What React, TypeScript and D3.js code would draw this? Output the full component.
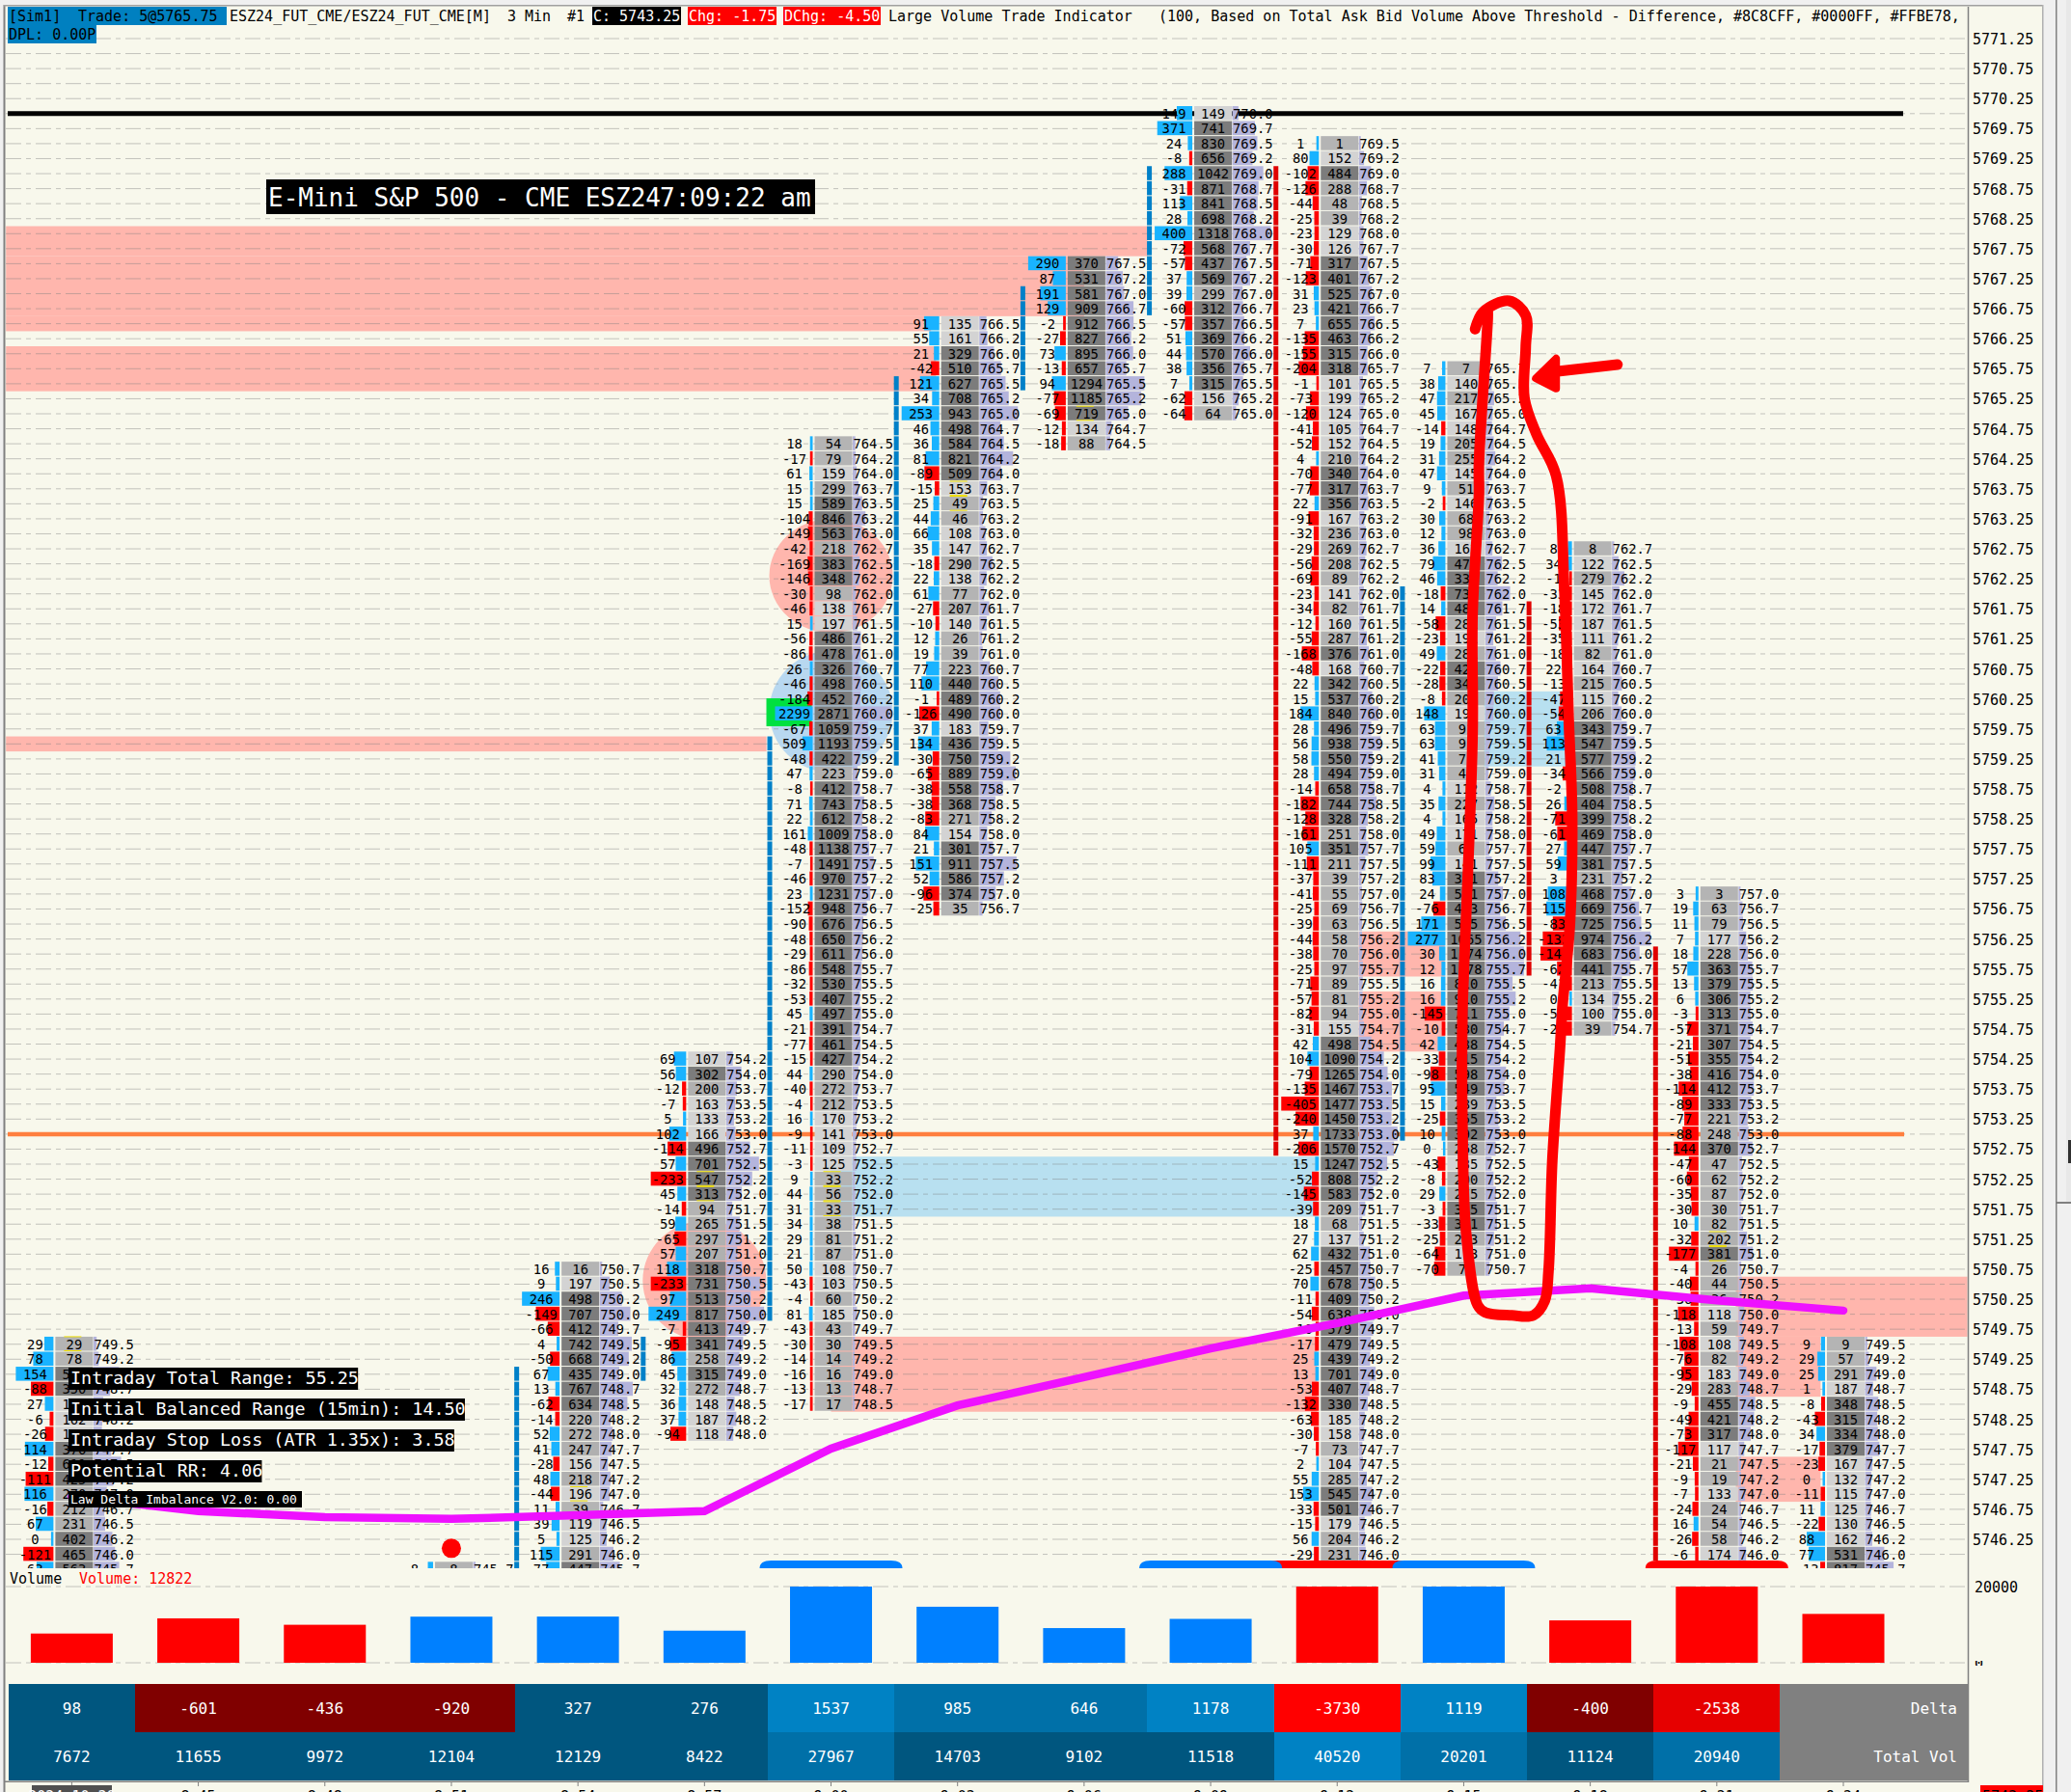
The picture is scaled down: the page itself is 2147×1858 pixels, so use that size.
import * as d3 from 'd3';

const MONO = '"DejaVu Sans Mono", monospace';

// bar time labels and totals
const timeLabels = ['2024-10-30', '8:45', '8:48', '8:51', '8:54', '8:57', '9:00', '9:03', '9:06', '9:09', '9:12', '9:15', '9:18', '9:21', '9:24'];
const barDelta = [98, -601, -436, -920, 327, 276, 1537, 985, 646, 1178, -3730, 1119, -400, -2538];
const barTotal = [7672, 11655, 9972, 12104, 12129, 8422, 27967, 14703, 9102, 11518, 40520, 20201, 11124, 20940];
const barVolume = [7672, 11655, 9972, 12104, 12129, 8422, 27967, 14703, 9102, 11518, 40520, 20201, 11124, 20940, 12822];
const barUp = [false, false, false, true, true, true, true, true, true, true, false, true, false, false, false];

// footprint rows, top price of each bar then delta and volume from top to bottom
const bar0Top = 5749.5;
const bar0Delta = [29, 78, 154, -88, 27, -6, -26, 114, -12, -111, 116, -16, 67, 0, -121, 63];
const bar0Vol = [29, 78, 561, 350, 185, 162, 154, 376, 611, 425, 270, 212, 231, 402, 465, 563];
const bar3Top = 5745.75;
const bar3Delta = [8];
const bar3Vol = [8];
const bar4Top = 5750.75;
const bar4Delta = [16, 9, 246, -149, -66, 4, -50, 67, 13, -62, -14, 52, 41, -28, 48, -44, 11, 39, 5, 115, 77];
const bar4Vol = [16, 197, 498, 707, 412, 742, 668, 435, 767, 634, 220, 272, 247, 156, 218, 196, 39, 119, 125, 291, 447];
const bar5Top = 5754.25;
const bar5Delta = [69, 56, -12, -7, 5, 102, -114, 57, -233, 45, -14, 59, -65, 57, 118, -233, 97, 249, -7, -95, 86, 45, 32, 36, 37, -94];
const bar5Vol = [107, 302, 200, 163, 133, 166, 496, 701, 547, 313, 94, 265, 297, 207, 318, 731, 513, 817, 413, 341, 258, 315, 272, 148, 187, 118];
const bar6Top = 5764.5;
const bar6Delta = [18, -17, 61, 15, 15, -104, -149, -42, -169, -146, -30, -46, 15, -56, -86, 26, -46, -184, 2299, -67, 509, -48, 47, -8, 71, 22, 161, -48, -7, -46, 23, -152, -90, -48, -29, -86, -32, -53, 45, -21, -77, -15, 44, -40, -4, 16, -9, -11, -3, 9, 44, 31, 34, 29, 21, 50, -43, -4, 81, -43, -30, -14, -16, -13, -17];
const bar6Vol = [54, 79, 159, 299, 589, 846, 563, 218, 383, 348, 98, 138, 197, 486, 478, 326, 498, 452, 2871, 1059, 1193, 422, 223, 412, 743, 612, 1009, 1138, 1491, 970, 1231, 948, 676, 650, 611, 548, 530, 407, 497, 391, 461, 427, 290, 272, 212, 170, 141, 109, 125, 33, 56, 33, 38, 81, 87, 108, 103, 60, 185, 43, 30, 14, 16, 13, 17];
const bar7Top = 5766.5;
const bar7Delta = [91, 55, 21, -42, 121, 34, 253, 46, 36, 81, -89, -15, 25, 44, 66, 35, -18, 22, 61, -27, -10, 12, 19, 77, 110, -1, -126, 37, 134, -30, -65, -38, -38, -83, 84, 21, 151, 52, -96, -25];
const bar7Vol = [135, 161, 329, 510, 627, 708, 943, 498, 584, 821, 509, 153, 49, 46, 108, 147, 290, 138, 77, 207, 140, 26, 39, 223, 440, 489, 490, 183, 436, 750, 889, 558, 368, 271, 154, 301, 911, 586, 374, 35];
const bar8Top = 5767.5;
const bar8Delta = [290, 87, 191, 129, -2, -27, 73, -13, 94, -77, -69, -12, -18];
const bar8Vol = [370, 531, 581, 909, 912, 827, 895, 657, 1294, 1185, 719, 134, 88];
const bar9Top = 5770;
const bar9Delta = [149, 371, 24, -8, 288, -31, 113, 28, 400, -72, -57, 37, 39, -60, -57, 51, 44, 38, 7, -62, -64];
const bar9Vol = [149, 741, 830, 656, 1042, 871, 841, 698, 1318, 568, 437, 569, 299, 312, 357, 369, 570, 356, 315, 156, 64];
const bar10Top = 5769.5;
const bar10Delta = [1, 80, -102, -126, -44, -25, -23, -30, -71, -123, 31, 23, 7, -135, -155, -204, -1, -73, -120, -41, -52, 4, -70, -77, 22, -91, -32, -29, -56, -69, -23, -34, -12, -55, -168, -48, 22, 15, 184, 28, 56, 58, 28, -14, -182, -128, -161, 105, -111, -37, -41, -25, -39, -44, -38, -25, -71, -57, -82, -31, 42, 104, -79, -135, -405, -240, 37, -206, 15, -52, -145, -39, 18, 27, 62, -25, 70, -11, -54, -10, -17, 25, 13, -53, -132, -63, -30, -7, 2, 55, 153, -33, -15, 56, -29];
const bar10Vol = [1, 152, 484, 288, 48, 39, 129, 126, 317, 401, 525, 421, 655, 463, 315, 318, 101, 199, 124, 105, 152, 210, 340, 317, 356, 167, 236, 269, 208, 89, 141, 82, 160, 287, 376, 168, 342, 537, 840, 496, 938, 550, 494, 658, 744, 328, 251, 351, 211, 39, 55, 69, 63, 58, 70, 97, 89, 81, 94, 155, 498, 1090, 1265, 1467, 1477, 1450, 1733, 1570, 1247, 808, 583, 209, 68, 137, 432, 457, 678, 409, 638, 579, 479, 439, 701, 407, 330, 185, 158, 73, 104, 285, 545, 501, 179, 204, 231];
const bar11Top = 5765.75;
const bar11Delta = [7, 38, 47, 45, -14, 19, 31, 47, 9, -2, 30, 12, 36, 79, 46, -18, 14, -58, -23, 49, -22, -28, -8, 148, 63, 63, 41, 31, 4, 35, 4, 49, 59, 99, 83, 24, -76, 171, 277, 30, 12, 16, 16, -145, -10, 42, -33, -98, 95, 15, -25, 10, 0, -43, -8, 29, -3, -33, -25, -64, -70];
const bar11Vol = [7, 140, 217, 167, 148, 205, 255, 145, 51, 146, 68, 98, 162, 471, 331, 731, 481, 281, 191, 281, 421, 341, 209, 193, 91, 91, 71, 41, 112, 227, 165, 171, 61, 141, 351, 501, 413, 595, 1065, 1174, 1178, 810, 910, 711, 530, 438, 415, 598, 549, 289, 355, 392, 268, 135, 200, 275, 315, 311, 213, 113, 70];
const bar12Top = 5762.75;
const bar12Delta = [8, 34, -1, -33, -18, -53, -35, -18, 22, -13, -47, -54, 63, 113, 21, -34, -2, 26, -71, -61, 27, 59, 3, 108, 115, -83, -133, -144, -62, -41, 0, -53, -24];
const bar12Vol = [8, 122, 279, 145, 172, 187, 111, 82, 164, 215, 115, 206, 343, 547, 577, 566, 508, 404, 399, 469, 447, 381, 231, 468, 669, 725, 974, 683, 441, 213, 134, 100, 39];
const bar13Top = 5757;
const bar13Delta = [3, 19, 11, 7, 18, 57, 13, 6, -3, -57, -21, -51, -38, -114, -89, -77, -88, -144, -47, -60, -35, -30, 10, -32, -177, -4, -40, -36, -118, -13, -108, -76, -95, -29, -9, -49, -73, -117, -21, -9, -7, -24, 16, -26, -6];
const bar13Vol = [3, 63, 79, 177, 228, 363, 379, 306, 313, 371, 307, 355, 416, 412, 333, 221, 248, 370, 47, 62, 87, 30, 82, 202, 381, 26, 44, 36, 118, 59, 108, 82, 183, 283, 455, 421, 317, 117, 21, 19, 133, 24, 54, 58, 174];
const bar14Top = 5749.5;
const bar14Delta = [9, 29, 25, 1, -8, -43, 34, -17, -23, 0, -11, 11, -22, 88, 77, -13];
const bar14Vol = [9, 57, 291, 187, 348, 315, 334, 379, 167, 132, 115, 125, 130, 162, 531, 817];

const deltaMax = [154, 100, 100, 100, 246, 249, 2299, 253, 290, 400, 405, 277, 175, 230, 195];
const profileMax = [870, 900, 900, 500, 900, 833, 2871, 943, 1294, 1318, 1733, 1178, 974, 1127, 1127];

// stacked imbalance markers on the left of a bar: bar, high price, low price, up
const stackMarks: [number, number, number, boolean][] = [
  [4, 5749, 5745.75, true],
  [5, 5749.5, 5749, true],
  [6, 5759.5, 5750, true],
  [7, 5765.5, 5759.25, true],
  [8, 5767, 5765.5, true],
  [9, 5769, 5766.75, true],
  [10, 5769, 5752.75, false],
  [11, 5762, 5753, true],
  [12, 5761.75, 5755.75, false],
  [13, 5756, 5745.75, false],
];

// zones: bar from, bar to, high price, low price
const redZones: [number, number, number, number][] = [
  [-0.52, 8.5, 5768.125, 5767.625],
  [-0.52, 8.0, 5767.625, 5766.625],
  [-0.52, 6.79, 5766.625, 5766.375],
  [-0.52, 6.83, 5766.125, 5765.375],
  [-0.52, 5.49, 5759.625, 5759.375],
  [6.0, 9.84, 5749.625, 5748.375],
  [10.17, 10.85, 5756.375, 5755.625],
  [10.17, 10.85, 5755.375, 5754.375],
  [13.15, 14.98, 5750.625, 5749.625],
  [13.15, 13.82, 5749.625, 5748.625],
  [13.15, 13.82, 5747.625, 5746.875],
];
const blueZones: [number, number, number, number][] = [
  [6.0, 9.84, 5752.625, 5751.625],
  [11.16, 11.86, 5760.375, 5759.125],
];

// large trade bubbles: bar, price, colour
const bubbles: [number, number, string, number][] = [
  [6, 5762.3, '#ffb6ad', 59],
  [6, 5760.04, '#b8d8f0', 63],
  [5, 5750.56, '#ffb6ad', 62],
];
const yellowMarks: [number, number][] = [[0, 5749.5], [4, 5747], [5, 5752.25], [5, 5752], [6, 5752.25], [6, 5752], [6, 5751.75], [7, 5763.75], [7, 5763.5], [8, 5765], [13, 5751.25], [13, 5751]];
const domesUp = [6, 9, 11];
const domesDown = [10, 13];

const trendLine = [5746.96, 5746.72, 5746.62, 5746.59, 5746.65, 5746.72, 5747.76, 5748.48, 5748.95, 5749.43, 5749.85, 5750.31, 5750.43, 5750.23, 5750.06];

// hand drawn marker, in bar index and price
const inkLoop: [number, number][] = [
  [11.09, 5766.41], [11.155, 5766.7], [11.36, 5766.88], [11.49, 5766.64], [11.49, 5766.11], [11.48, 5765.26], [11.575, 5764.66], [11.73, 5763.97],
  [11.795, 5762.04], [11.83, 5759.89], [11.857, 5758.32], [11.84, 5756.52], [11.78, 5755.12], [11.76, 5754.41], [11.7, 5752.56], [11.67, 5750.72],
  [11.64, 5750.22], [11.55, 5749.98], [11.38, 5749.98], [11.17, 5750.03], [11.11, 5750.15], [11.02, 5751.33], [10.99, 5753.17], [10.99, 5755.02],
  [11.0, 5755.65], [11.07, 5759.65], [11.07, 5761.66], [11.12, 5763.65], [11.12, 5764.18], [11.19, 5766.59], [11.19, 5766.72],
];
const inkShaft: [number, number][] = [[12.215, 5765.82], [11.76, 5765.71]];
const inkHead: [number, number][] = [[11.57, 5765.59], [11.73, 5765.92], [11.73, 5765.42]];

const infoLines = ['Intraday Total Range: 55.25', 'Initial Balanced Range (15min): 14.50', 'Intraday Stop Loss (ATR 1.35x): 3.58', 'Potential RR: 4.06'];

const axisPrices = d3.range(0, 51).map((i) => 5771.25 - i * 0.5);
const gridPrices = d3.range(0, 103).map((i) => 5771.25 - i * 0.25);

const bars = [
  { bar: 0, top: bar0Top, delta: bar0Delta, vol: bar0Vol },
  { bar: 3, top: bar3Top, delta: bar3Delta, vol: bar3Vol },
  { bar: 4, top: bar4Top, delta: bar4Delta, vol: bar4Vol },
  { bar: 5, top: bar5Top, delta: bar5Delta, vol: bar5Vol },
  { bar: 6, top: bar6Top, delta: bar6Delta, vol: bar6Vol },
  { bar: 7, top: bar7Top, delta: bar7Delta, vol: bar7Vol },
  { bar: 8, top: bar8Top, delta: bar8Delta, vol: bar8Vol },
  { bar: 9, top: bar9Top, delta: bar9Delta, vol: bar9Vol },
  { bar: 10, top: bar10Top, delta: bar10Delta, vol: bar10Vol },
  { bar: 11, top: bar11Top, delta: bar11Delta, vol: bar11Vol },
  { bar: 12, top: bar12Top, delta: bar12Delta, vol: bar12Vol },
  { bar: 13, top: bar13Top, delta: bar13Delta, vol: bar13Vol },
  { bar: 14, top: bar14Top, delta: bar14Delta, vol: bar14Vol },
];
const rows = bars.flatMap((b) => b.delta.map((d, k) => ({ bar: b.bar, price: b.top - k * 0.25, delta: d, vol: b.vol[k] })));

const x = d3.scaleLinear().domain([0, 14]).range([74.4, 1911]);
const y = d3.scaleLinear().domain([5771.25, 5746.25]).range([40, 1596]);
const rowH = y(5771) - y(5771.25);
const volY = d3.scaleLinear().domain([0, 20000]).range([1724, 1645]).clamp(true);
const cellColor = d3.scaleThreshold<number, string>().domain([100, 200, 300]).range(['#b4b4b4', '#d3d3d3', '#b0b0b0', '#7c7c7c']);
const deltaColor = d3.scaleThreshold<number, string>().domain([-3000, -1000, 0, 500, 1000]).range(['#ff0000', '#e60000', '#800000', '#00567f', '#0070a8', '#0082c4']);
const totalColor = d3.scaleThreshold<number, string>().domain([20000, 30000]).range(['#00567f', '#0070a8', '#0082c4']);
const deltaW = (bar: number) => d3.scaleLinear().domain([0, deltaMax[bar]]).range([2.5, 39]).clamp(true);
const profileW = (bar: number) => d3.scaleLinear().domain([0, profileMax[bar]]).range([2, 40]).clamp(true);
const ink = d3.line<[number, number]>().x((d) => x(d[0])).y((d) => y(d[1]));

const priceText = (p: number) => p.toFixed(2).slice(1, 6);
const domePath = (b: number) => `M${x(b) - 74},1626 Q${x(b) - 74},1618 ${x(b) - 62},1618 H${x(b) + 62} Q${x(b) + 74},1618 ${x(b) + 74},1626 Z`;
const cellLeft = (i: number) => Math.max(Math.round(x(i) - 65.6), 8);

function Zone({ z, fill }: { z: [number, number, number, number]; fill: string }) {
  return <rect x={x(z[0])} y={y(z[2])} width={x(z[1]) - x(z[0])} height={y(z[3]) - y(z[2])} fill={fill} />;
}

export default function App() {
  const trend = d3.line<number>().x((_, i) => x(i)).y((d) => y(d));
  return (
    <svg width={2147} height={1858} style={{ position: 'absolute', left: 0, top: 0, display: 'block' }} fontFamily={MONO} fontSize={13.8}>
      <defs>
        <clipPath id="pricePane"><rect x={6} y={6} width={2034} height={1620} /></clipPath>
        <clipPath id="headerClip"><rect x={6} y={6} width={2034} height={40} /></clipPath>
        <clipPath id="zeroClip"><rect x={2040} y={1722} width={30} height={5} /></clipPath>
      </defs>

      <rect width={2147} height={1858} fill="#f0f0f0" />
      <rect x={5} y={6} width={2113} height={1852} fill="#f8f8ec" />
      <rect x={3.5} y={5} width={2} height={1853} fill="#808080" />
      <rect x={4} y={5} width={2114} height={1.5} fill="#a0a0a0" />
      <rect x={2117} y={5} width={1.5} height={1853} fill="#b0b0b0" />
      <rect x={2131} y={0} width={1.5} height={1858} fill="#808080" />
      <rect x={2142} y={0} width={5} height={1247} fill="#e8e8e8" />
      <rect x={2131} y={1246} width={16} height={2} fill="#808080" />
      <rect x={2144} y={1182} width={3} height={24} fill="#303030" />

      <g clipPath="url(#pricePane)">
        {redZones.map((z, i) => <Zone key={i} z={z} fill="#ffb6ad" />)}
        {blueZones.map((z, i) => <Zone key={i} z={z} fill="#b8e0f0" />)}
        {bubbles.map((b, i) => <ellipse key={i} cx={x(b[0])} cy={y(b[1])} rx={64} ry={b[3]} fill={b[2]} />)}
        {gridPrices.map((p) => (
          <line key={p} x1={6} x2={2040} y1={y(p)} y2={y(p)} stroke="#808080" strokeOpacity={0.45} strokeDasharray="16 5 5 5" />
        ))}
        <line x1={8} x2={1973} y1={y(5770)} y2={y(5770)} stroke="#000" strokeWidth={5} />
        <line x1={8} x2={1974} y1={y(5753)} y2={y(5753)} stroke="#ff7f3f" strokeWidth={4.5} />

        {stackMarks.flatMap((m) =>
          d3.range(0, Math.round((m[1] - m[2]) / 0.25) + 1).map((k) => (
            <rect key={`${m[0]}-${k}`} x={x(m[0]) - 66} y={y(m[1] - k * 0.25) - rowH / 2} width={5} height={rowH - 1} fill={m[3] ? '#0080c8' : '#e00000'} />
          ))
        )}

        <rect x={x(6) - 67} y={y(5760.26)} width={47} height={29} fill="#00e040" />

        {rows.map((r) => {
          const c = x(r.bar);
          const top = y(r.price) - rowH / 2;
          const w = deltaW(r.bar)(Math.abs(r.delta));
          return (
            <g key={`${r.bar}-${r.price}`}>
              <rect x={c - 19 - w} y={top} width={w} height={rowH - 1} fill={r.delta < 0 ? '#ff0000' : '#19b3ff'} />
              <rect x={c - 17} y={top} width={39} height={rowH - 1} fill={cellColor(r.vol)} />
              <rect x={c + 22.5} y={top} width={profileW(r.bar)(r.vol)} height={rowH - 1} fill="#b4b4dc" />
            </g>
          );
        })}

        {yellowMarks.map((m, i) => {
          const c = x(m[0]);
          return (
            <g key={i} stroke="#f0e000">
              <line x1={c - 8} x2={c + 10} y1={y(m[1]) - rowH / 2} y2={y(m[1]) - rowH / 2} />
              <line x1={c - 8} x2={c + 10} y1={y(m[1]) + rowH / 2 - 1} y2={y(m[1]) + rowH / 2 - 1} />
            </g>
          );
        })}

        {rows.map((r) => {
          const c = x(r.bar);
          const base = y(r.price) + 5;
          return (
            <g key={`${r.bar}-${r.price}`} fill="#000">
              <text x={c - 38} y={base} textAnchor="middle">{r.delta}</text>
              <text x={c + 2.5} y={base} textAnchor="middle">{r.vol}</text>
              <text x={c + 23} y={base}>{priceText(r.price)}</text>
            </g>
          );
        })}

        <circle cx={x(3)} cy={y(5746.1)} r={10} fill="#ff0000" />
      </g>

      {domesDown.map((b) => <path key={b} d={domePath(b)} fill="#ff0000" />)}
      {domesUp.map((b) => <path key={b} d={domePath(b)} fill="#0080ff" />)}

      <path d={trend(trendLine) ?? ''} fill="none" stroke="#ee11ff" strokeWidth={8.5} strokeLinecap="round" />

      <path d={ink.curve(d3.curveCatmullRom)(inkLoop) ?? ''} fill="none" stroke="#ff0000" strokeWidth={11} strokeLinecap="round" strokeLinejoin="round" />
      <path d={ink.curve(d3.curveLinear)(inkShaft) ?? ''} fill="none" stroke="#ff0000" strokeWidth={11} strokeLinecap="round" />
      <path d={(ink.curve(d3.curveLinear)(inkHead) ?? '') + 'Z'} fill="#ff0000" stroke="#ff0000" strokeWidth={8} strokeLinejoin="round" />

      {/* header */}
      <g clipPath="url(#headerClip)" fontSize={15}>
        <rect x={8} y={7} width={227} height={19} fill="#0080c0" />
        <rect x={8} y={26} width={92} height={19} fill="#0080c0" />
        <rect x={614} y={7} width={92} height={19} fill="#000" />
        <rect x={713} y={7} width={92} height={19} fill="#ff0000" />
        <rect x={812} y={7} width={101} height={19} fill="#ff0000" />
        <text x={9} y={22}>[Sim1]</text>
        <text x={81} y={22}>Trade: 5@5765.75</text>
        <text x={9} y={41}>DPL: 0.00P</text>
        <text x={238} y={22}>ESZ24_FUT_CME/ESZ24_FUT_CME[M]</text>
        <text x={526} y={22}>3 Min</text>
        <text x={588} y={22}>#1</text>
        <text x={615} y={22} fill="#fff">C: 5743.25</text>
        <text x={714} y={22} fill="#fff">Chg: -1.75</text>
        <text x={813} y={22} fill="#fff">DChg: -4.50</text>
        <text x={921} y={22}>Large Volume Trade Indicator</text>
        <text x={1201} y={22}>(100, Based on Total Ask Bid Volume Above Threshold - Difference, #8C8CFF, #0000FF, #FFBE78, #</text>
      </g>

      <rect x={276} y={186} width={569} height={36} fill="#000" />
      <text x={278} y={214} fill="#fff" fontSize={26}>E-Mini S&amp;P 500 - CME ESZ24</text>
      <text x={684} y={214} fill="#fff" fontSize={26}>7:09:22 am</text>

      {infoLines.map((t, i) => (
        <g key={t}>
          <rect x={71} y={1418 + i * 32} width={t.length * 11.08 + 1} height={23} fill="#000" />
          <text x={73} y={1435 + i * 32} fill="#fff" fontSize={18.4}>{t}</text>
        </g>
      ))}
      <rect x={71} y={1546} width={242} height={17} fill="#000" />
      <text x={73} y={1559} fill="#fff" fontSize={13}>Law Delta Imbalance V2.0: 0.00</text>

      {/* price axis */}
      <line x1={2040.5} x2={2040.5} y1={7} y2={1848} stroke="#808080" strokeWidth={1.5} />
      {axisPrices.map((p) => (
        <text key={p} x={2045} y={y(p) + 6} fontSize={15} fill="#000">{p.toFixed(2)}</text>
      ))}

      {/* volume pane */}
      <text x={10} y={1642} fontSize={15}>Volume</text>
      <text x={82} y={1642} fontSize={15} fill="#ff0000">Volume: 12822</text>
      {[0, 20000].map((v) => (
        <line key={v} x1={6} x2={2040} y1={volY(v)} y2={volY(v)} stroke="#808080" strokeOpacity={0.45} strokeDasharray="16 5 5 5" />
      ))}
      {barVolume.map((v, i) => (
        <rect key={i} x={x(i) - 42.5} y={volY(v)} width={85} height={volY(0) - volY(v)} fill={barUp[i] ? '#0080ff' : '#ff0000'} />
      ))}
      <text x={2047} y={1651} fontSize={15}>20000</text>
      <text x={2047} y={1730} fontSize={15} clipPath="url(#zeroClip)">0</text>

      {/* delta and total volume table */}
      {barDelta.map((v, i) => (
        <g key={i} fontSize={16} fill="#fff" textAnchor="middle">
          <rect x={cellLeft(i)} y={1746} width={cellLeft(i + 1) - cellLeft(i)} height={50} fill={deltaColor(v)} />
          <rect x={cellLeft(i)} y={1796} width={cellLeft(i + 1) - cellLeft(i)} height={50} fill={totalColor(barTotal[i])} />
          <text x={x(i)} y={1777}>{v}</text>
          <text x={x(i)} y={1827}>{barTotal[i]}</text>
        </g>
      ))}
      <rect x={cellLeft(14)} y={1746} width={2040 - cellLeft(14)} height={100} fill="#808080" />
      <text x={2029} y={1777} fill="#fff" fontSize={16} textAnchor="end">Delta</text>
      <text x={2029} y={1827} fill="#fff" fontSize={16} textAnchor="end">Total Vol</text>

      {/* time axis */}
      <rect x={5} y={1846.5} width={2036} height={1.5} fill="#808080" />
      {timeLabels.map((t, i) => (
        <g key={t}>
          <line x1={x(i)} x2={x(i)} y1={1848} y2={1852} stroke="#808080" />
          {i === 0 && <rect x={33} y={1851} width={83} height={7} fill="#505050" />}
          <text x={x(i)} y={1868} fontSize={15} textAnchor="middle" fill={i === 0 ? '#fff' : '#000'}>{t}</text>
        </g>
      ))}
      <rect x={2053} y={1851} width={65} height={7} fill="#ff0000" />
      <text x={2055} y={1868} fontSize={15} fill="#000">5743.25</text>
    </svg>
  );
}
